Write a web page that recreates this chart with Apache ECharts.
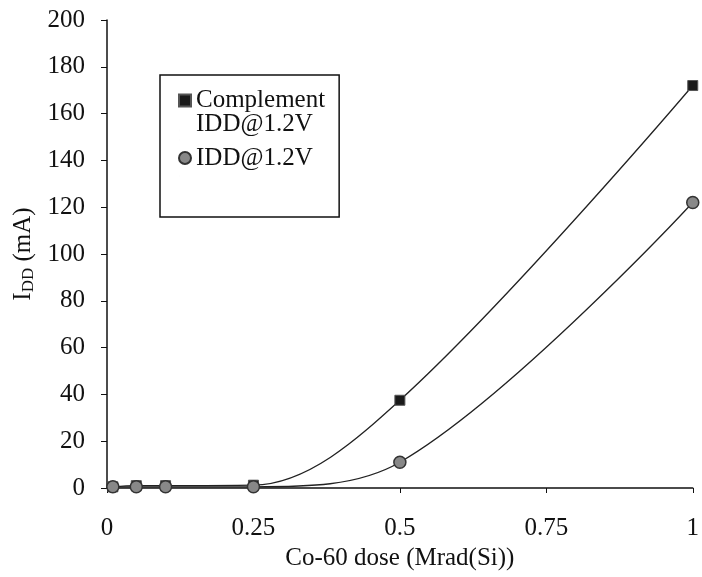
<!DOCTYPE html>
<html>
<head>
<meta charset="utf-8">
<script src="https://cdn.jsdelivr.net/npm/echarts@6/dist/echarts.min.js"></script>
<style>
  html, body { margin: 0; padding: 0; background: #fff; }
  #chart { width: 702px; height: 577px; }
</style>
</head>
<body>
<div id="chart"></div>
<script>
// dose points, Mrad(Si)
const dose = [0.01, 0.05, 0.1, 0.25, 0.5, 1];
// current, mA
const complementIdd = [0.5, 1, 1, 1.2, 37.5, 172];
const idd = [0.5, 0.5, 0.5, 0.5, 11, 122];
const xTicks = [0, 0.25, 0.5, 0.75, 1];

const font = 'Liberation Serif';
const chart = echarts.init(document.getElementById('chart'));

const pairs = (ys) => dose.map((x, i) => [x, ys[i]]);

// legend icons: tall boxes so the square sits on the first text line
const squareIcon = 'path://M0,0 L12,0 L12,12 L0,12 Z M0,36 L0.01,36 Z';
const circleIcon = 'path://M0,18 A6,6 0 1,1 12,18 A6,6 0 1,1 0,18 Z M0,0 L0.01,0 Z M0,36 L0.01,36 Z';

const option = {
  backgroundColor: '#fff',
  animation: false,
  grid: { left: 107, top: 20, right: 5, bottom: 89 },
  legend: {
    orient: 'vertical',
    left: 160,
    top: 75,
    padding: [13, 14, 40, 18],
    itemGap: 2,
    itemWidth: 12,
    itemHeight: 36,
    borderColor: '#111',
    borderWidth: 1.5,
    textStyle: { fontFamily: font, fontSize: 25, color: '#111', lineHeight: 24 },
    data: [
      { name: 'Complement\nIDD@1.2V', icon: squareIcon },
      { name: 'IDD@1.2V', icon: circleIcon }
    ]
  },
  xAxis: {
    type: 'value',
    min: 0, max: 1, interval: 0.25,
    name: 'Co-60 dose (Mrad(Si))',
    nameLocation: 'middle',
    nameGap: 58,
    nameTextStyle: { fontFamily: font, fontSize: 25, color: '#111' },
    axisLine: { lineStyle: { color: '#111', width: 1.5 } },
    axisTick: { show: true, length: 5, lineStyle: { color: '#111' } },
    axisLabel: {
      fontFamily: font, fontSize: 25, color: '#111', margin: 28,
      formatter: (v) => xTicks.includes(v) ? String(v) : ''
    },
    splitLine: { show: false }
  },
  yAxis: {
    type: 'value',
    min: 0, max: 200, interval: 20,
    name: '{m|I}{s|DD}{m| (mA)}',
    nameLocation: 'middle',
    nameGap: 61,
    nameTextStyle: {
      rich: {
        m: { fontFamily: font, fontSize: 25, color: '#111' },
        s: { fontFamily: font, fontSize: 17, color: '#111', padding: [10, 0, 0, 0] }
      }
    },
    axisLine: { show: true, lineStyle: { color: '#111', width: 1.5 } },
    axisTick: { show: true, length: 6, lineStyle: { color: '#111' } },
    axisLabel: { fontFamily: font, fontSize: 25, color: '#111', margin: 22 },
    splitLine: { show: false }
  },
  series: [
    {
      name: 'Complement\nIDD@1.2V',
      type: 'line',
      smooth: 0.35,
      data: pairs(complementIdd),
      symbol: 'rect',
      symbolSize: 10,
      itemStyle: { color: '#1a1a1a', borderColor: '#555', borderWidth: 1 },
      lineStyle: { color: '#222', width: 1.3 }
    },
    {
      name: 'IDD@1.2V',
      type: 'line',
      smooth: 0.35,
      data: pairs(idd),
      symbol: 'circle',
      symbolSize: 12,
      itemStyle: { color: '#888', borderColor: '#333', borderWidth: 1.5 },
      lineStyle: { color: '#222', width: 1.3 }
    }
  ]
};

chart.setOption(option);
</script>
</body>
</html>
